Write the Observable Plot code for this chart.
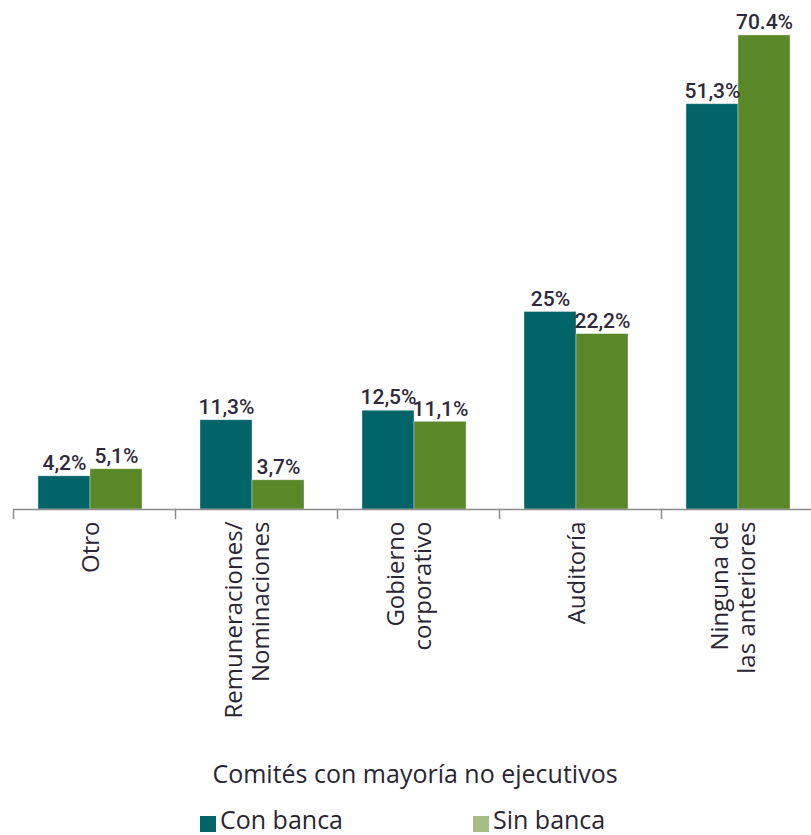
<!DOCTYPE html>
<html>
<head>
<meta charset="utf-8">
<script src="https://cdn.jsdelivr.net/npm/d3@7"></script>
<script src="https://cdn.jsdelivr.net/npm/@observablehq/plot@0.6"></script>
<style>
  html, body { margin: 0; padding: 0; background: #fff; }
  #chart { width: 811px; height: 835px; position: relative; overflow: hidden; font-family: "Open Sans", sans-serif; color: #2a2533; }
  #plot { position: absolute; top: 0; left: 0; }
  #title { position: absolute; top: 761px; left: 0; width: 830px; text-align: center; font-size: 25px; line-height: 25px; }
  #legend { position: absolute; top: 806px; left: 0; width: 811px; height: 26px; font-size: 25px; line-height: 26px; }
  .item { position: absolute; top: 0; height: 26px; white-space: nowrap; }
  .sw { position: absolute; left: 0; top: 10px; width: 16px; height: 16px; }
  .lab { position: absolute; left: 20px; top: 0; }
</style>
</head>
<body>
<div id="chart">
  <div id="plot"></div>
  <div id="title"></div>
  <div id="legend"></div>
</div>
<script>
const categories = ["Otro", "Remuneraciones/\nNominaciones", "Gobierno\ncorporativo", "Auditoría", "Ninguna de\nlas anteriores"];
const series = ["Con banca", "Sin banca"];
const conBanca = [4.2, 11.3, 12.5, 25, 51.3];
const sinBanca = [5.1, 3.7, 11.1, 22.2, 60];
const conLabels = ["4,2%", "11,3%", "12,5%", "25%", "51,3%"];
const sinLabels = ["5,1%", "3,7%", "11,1%", "22,2%", "70.4%"];
const barColors = ["#006468", "#5a8727"];
const legendColors = ["#006468", "#a3bd84"];
const legendTitle = "Comités con mayoría no ejecutivos";

const data = [];
categories.forEach((c, i) => {
  data.push({category: c, series: series[0], value: conBanca[i], label: conLabels[i]});
  data.push({category: c, series: series[1], value: sinBanca[i], label: sinLabels[i]});
});
const singleLine = categories.filter(c => !c.includes("\n"));
const multiLine = categories.filter(c => c.includes("\n"));

const labelStyle = {frameAnchor: "bottom", rotate: -90, textAnchor: "end", dy: 12,
  fontSize: 24, lineHeight: 1.125, fill: "#2a2533", fontFamily: "Open Sans, sans-serif"};

const plot = Plot.plot({
  width: 811,
  height: 745,
  marginLeft: 13,
  marginRight: -12,
  marginTop: 16,
  marginBottom: 236,
  style: {fontFamily: "Open Sans, sans-serif", color: "#2a2533", overflow: "visible"},
  fx: {domain: categories, paddingInner: 0, paddingOuter: 0, axis: null},
  x: {domain: series, paddingInner: 0, paddingOuter: 0.55, align: 0.43, axis: null},
  y: {domain: [0, 62.4], axis: null},
  color: {domain: series, range: barColors},
  marks: [
    Plot.barY(data, {fx: "category", x: "series", y: "value", fill: "series", stroke: "#ffffff", strokeOpacity: 0.45, strokeWidth: 0.8}),
    Plot.ruleY([0], {stroke: "#8c8c8c", strokeWidth: 1.5}),
    Plot.frame({anchor: "left", stroke: "#8c8c8c", strokeWidth: 1.5, insetTop: 493, insetBottom: -9}),
    Plot.text(data, {fx: "category", x: "series", y: "value", text: "label", dy: -13,
      fontFamily: "Roboto, sans-serif", fontWeight: 500, fontSize: 21, fill: "#2e2a3c"}),
    Plot.text(singleLine, {fx: d => d, text: d => d, dx: 4, ...labelStyle}),
    Plot.text(multiLine, {fx: d => d, text: d => d, dx: 12, ...labelStyle})
  ]
});
document.getElementById("plot").appendChild(plot);

document.getElementById("title").textContent = legendTitle;
const legend = document.getElementById("legend");
const lefts = [200, 473];
series.forEach((s, i) => {
  const it = document.createElement("div");
  it.className = "item";
  it.style.left = lefts[i] + "px";
  const sw = document.createElement("div");
  sw.className = "sw";
  sw.style.background = legendColors[i];
  const t = document.createElement("span");
  t.className = "lab";
  t.textContent = s;
  it.appendChild(sw);
  it.appendChild(t);
  legend.appendChild(it);
});
</script>
</body>
</html>
